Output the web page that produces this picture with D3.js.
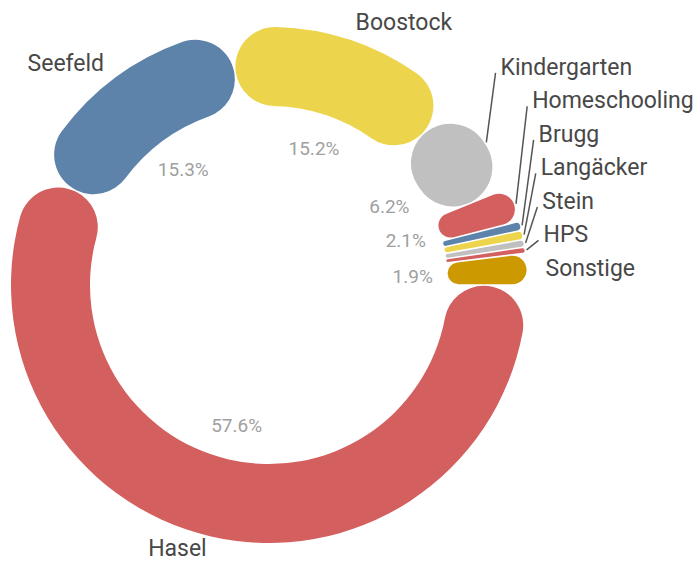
<!DOCTYPE html>
<html lang="de">
<head>
<meta charset="utf-8">
<script src="https://cdn.jsdelivr.net/npm/d3@7"></script>
<style>
  body { margin: 0; background: #fff; }
  text { font-family: Roboto, "Open Sans", sans-serif; }
</style>
</head>
<body>
<svg width="694" height="561"></svg>
<script>
// Anteile je Kategorie (Reihenfolge im Uhrzeigersinn, Start bei 3 Uhr)
var categories = ["Hasel", "Seefeld", "Boostock", "Kindergarten", "Homeschooling",
                  "Brugg", "Langäcker", "Stein", "HPS", "Sonstige"];
var shares = [57.6, 15.3, 15.2, 6.2, 2.1, 0.5, 0.5, 0.4, 0.3, 1.9];
var sliceColors = ["#d45f5f", "#5d83aa", "#ecd54c", "#c0c0c0", "#d45f5f",
                   "#5d83aa", "#ecd54c", "#c0c0c0", "#d45f5f", "#cc9900"];

var svg = d3.select("svg");
var cx = 269, cy = 285;
var rOuter = 258, rInner = 179;
var g = svg.append("g").attr("transform", "translate(" + cx + "," + cy + ")");

var data = categories.map(function(c, i) { return {name: c, value: shares[i], color: sliceColors[i]}; });

var pie = d3.pie()
  .sort(null)
  .value(function(d) { return d.value; })
  .startAngle(Math.PI / 2)
  .endAngle(Math.PI / 2 + 2 * Math.PI)
  .padAngle(0.005);

var arc = d3.arc()
  .innerRadius(rInner)
  .outerRadius(rOuter)
  .cornerRadius(40);

var arcs = pie(data);

// Segmente
g.selectAll("path.slice")
  .data(arcs)
  .enter()
  .append("path")
  .attr("class", "slice")
  .attr("d", arc)
  .attr("fill", function(d) { return d.data.color; });

// Prozentwerte innen
var fmt = d3.format(".1f");
var pctArc = d3.arc().innerRadius(144).outerRadius(144);
g.selectAll("text.pct")
  .data(arcs.filter(function(d) { return d.data.value >= 1.5; }))
  .enter()
  .append("text")
  .attr("class", "pct")
  .attr("transform", function(d) { return "translate(" + pctArc.centroid(d) + ")"; })
  .attr("text-anchor", "middle")
  .attr("dy", "0.35em")
  .attr("fill", "#a0a0a0")
  .attr("font-size", 19)
  .text(function(d) { return fmt(d.data.value) + "%"; });

// Beschriftungen aussen
var rLab = 277, rLine = 260, gap = 33.5;
var labels = arcs.map(function(d) {
  var a = (d.startAngle + d.endAngle) / 2;
  var ny = -rLab * Math.cos(a);
  return {
    name: d.data.name, a: a, right: Math.sin(a) > 0,
    x: rLab * Math.sin(a), ny: ny, y: ny
  };
});

// rechte Seite von unten nach oben stapeln
var rightSide = labels.filter(function(l) { return l.right; })
  .sort(function(a, b) { return b.ny - a.ny; });
for (var i = 1; i < rightSide.length; i++) {
  rightSide[i].y = Math.min(rightSide[i].ny, rightSide[i - 1].y - gap);
}
labels.forEach(function(l) { l.y = Math.min(l.y, 548 - cy); });

// Verbindungslinien, wenn das Label verschoben wurde
g.selectAll("line.leader")
  .data(labels.filter(function(l) { return l.right && Math.abs(l.y - l.ny) > 5; }))
  .enter()
  .append("line")
  .attr("class", "leader")
  .attr("x1", function(l) { return rLine * Math.sin(l.a); })
  .attr("y1", function(l) { return -rLine * Math.cos(l.a); })
  .attr("x2", function(l) { return l.x - 5; })
  .attr("y2", function(l) { return l.y + 6; })
  .attr("stroke", "#555")
  .attr("stroke-width", 1.5);

g.selectAll("text.cat")
  .data(labels)
  .enter()
  .append("text")
  .attr("class", "cat")
  .attr("x", function(l) { return l.x; })
  .attr("y", function(l) { return l.y; })
  .attr("dy", "0.35em")
  .attr("text-anchor", function(l) { return l.right ? "start" : "end"; })
  .attr("fill", "#484848")
  .attr("font-size", 23)
  .text(function(l) { return l.name; });
</script>
</body>
</html>
